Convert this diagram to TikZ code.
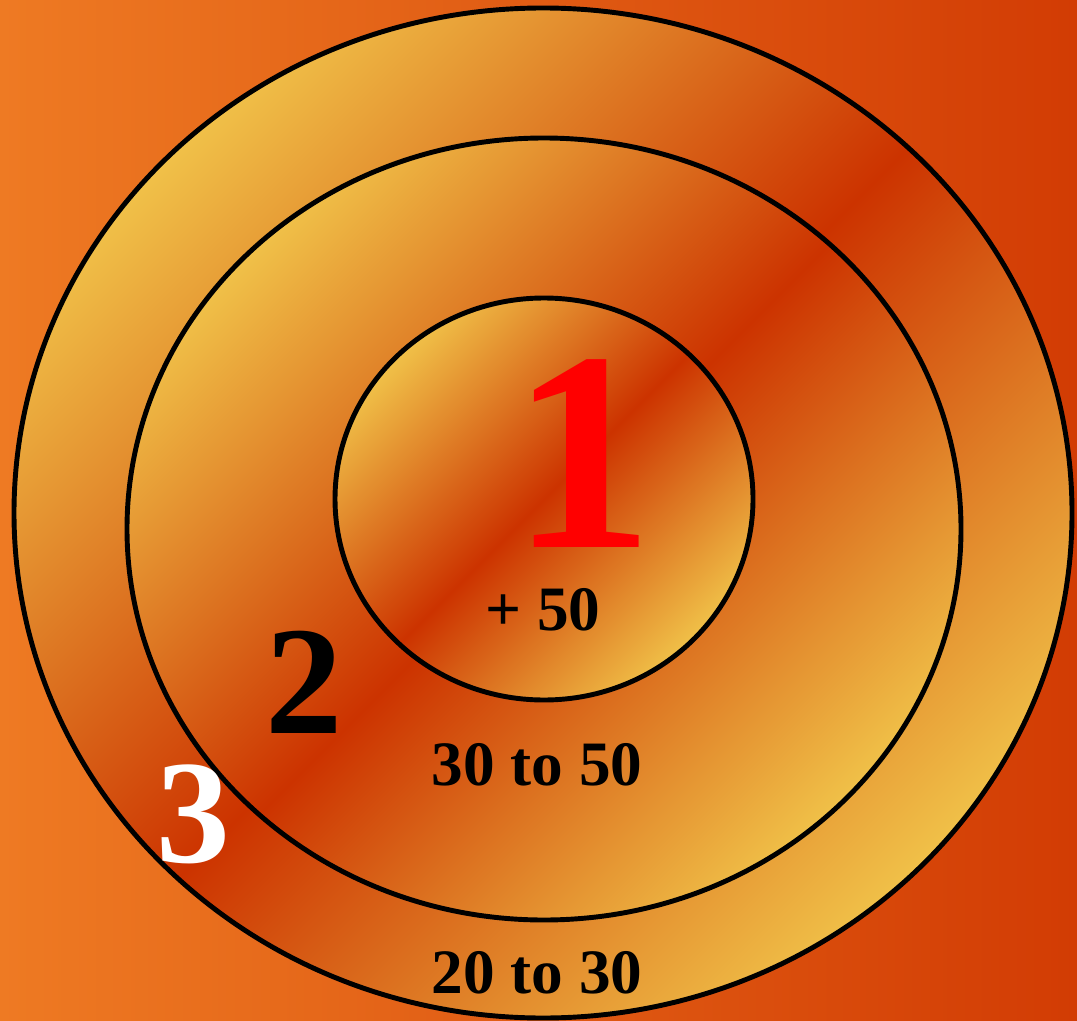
\documentclass[tikz,border=0pt]{standalone}
\usepackage{fontspec}
\setmainfont{Liberation Serif}
\definecolor{bgleft}{RGB}{238,122,35}
\definecolor{bgright}{RGB}{210,60,4}
\definecolor{ringyellow}{RGB}{240,192,72}
\definecolor{ringred}{RGB}{204,51,0}
\pgfdeclarehorizontalshading{ringshade}{100bp}{color(0bp)=(ringyellow); color(25bp)=(ringyellow); color(50bp)=(ringred); color(75bp)=(ringyellow); color(100bp)=(ringyellow)}
\begin{document}
\begin{tikzpicture}
        [x=0.02cm,y=-0.02cm,
        ring/.style={draw=black,line width=2.8pt,shading=ringshade,shading angle=-45},
        every node/.style={inner sep=0pt,anchor=base},
        zone/.style={font=\fontsize{36}{40}\selectfont\bfseries},
        rank/.style={font=\fontsize{#1}{#1}\selectfont\bfseries}]
        \useasboundingbox (0,0) rectangle (1077,1020);
        % background
        \shade[left color=bgleft,right color=bgright] (0,0) rectangle (1077,1020);
        % rings, outer to inner
        \path[ring] (543,513) ellipse [x radius=529,y radius=505];
        \path[ring] (544,529) ellipse [x radius=417,y radius=391];
        \path[ring] (544,499) ellipse [x radius=209,y radius=201];
        % labels
        \node[rank=162,text=red] (one) at (583,547) {1};
        \node[zone] (inner) at (543,630) {+ 50};
        \node[rank=88] (two) at (304,733) {2};
        \node[zone] (middle) at (537,785) {30 to 50};
        \node[rank=84,text=white] (three) at (193,862) {3};
        \node[zone] (outer) at (537,993) {20 to 30};
        \end{tikzpicture}
\end{document}
